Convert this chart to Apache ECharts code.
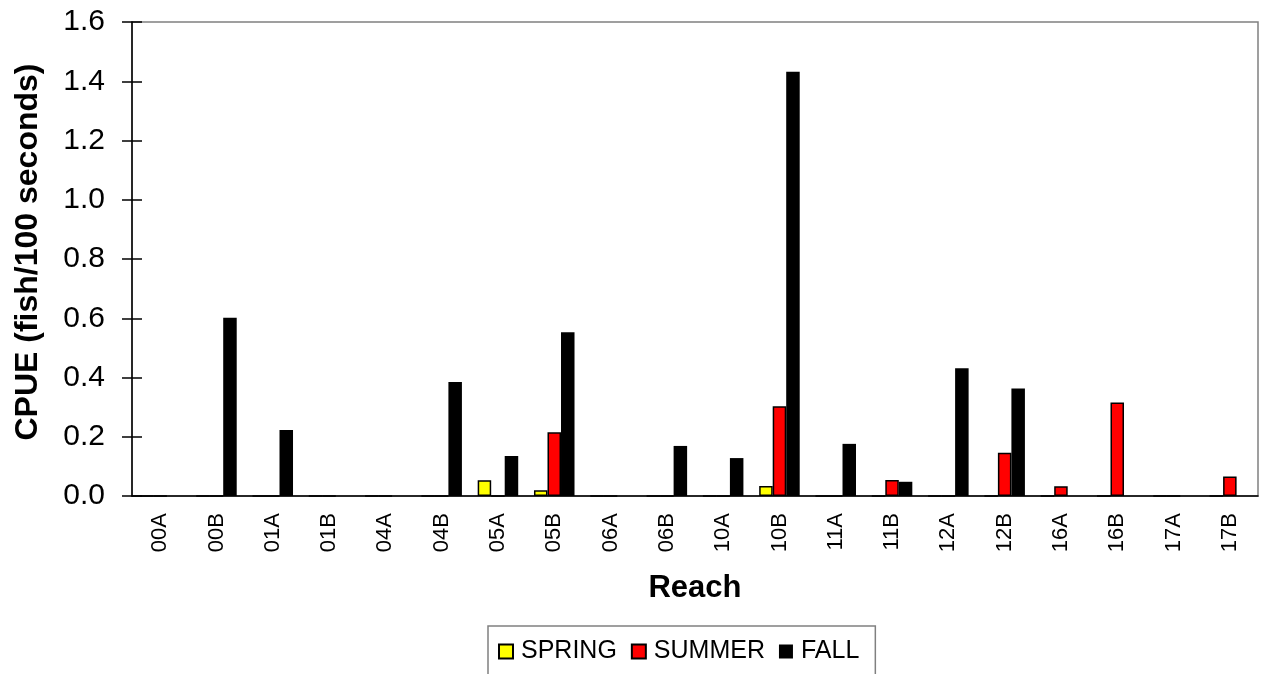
<!DOCTYPE html>
<html>
<head>
<meta charset="utf-8">
<script src="https://cdn.jsdelivr.net/npm/echarts@6/dist/echarts.min.js"></script>
<style>
  html, body { margin: 0; padding: 0; background: #fff; }
  #chart { width: 1269px; height: 674px; }
</style>
</head>
<body>
<div id="chart"></div>
<script>
// reaches along the x axis
var reaches = ['00A', '00B', '01A', '01B', '04A', '04B', '05A', '05B', '06A', '06B',
  '10A', '10B', '11A', '11B', '12A', '12B', '16A', '16B', '17A', '17B']
// CPUE per season (fish/100 seconds)
var spring = [0, 0, 0, 0, 0, 0, 0.053, 0.019, 0, 0, 0, 0.034, 0, 0, 0, 0, 0, 0, 0, 0]
var summer = [0, 0, 0, 0, 0, 0, 0, 0.215, 0, 0, 0, 0.303, 0, 0.054, 0, 0.146, 0.033, 0.316, 0, 0.066]
var fall = [0, 0.602, 0.223, 0, 0, 0.385, 0.135, 0.553, 0, 0.169, 0.128, 1.432, 0.176, 0.048, 0.431, 0.363, 0, 0, 0, 0]

var font = 'Liberation Sans, Arial, sans-serif'
var chart = echarts.init(document.getElementById('chart'))

function barSeries(name, data, color, border) {
  return {
    name: name,
    type: 'bar',
    data: data,
    barGap: 0,
    barCategoryGap: '28%',
    itemStyle: {
      color: color,
      borderColor: '#000',
      borderWidth: border
    },
    animation: false
  }
}

chart.setOption({
  backgroundColor: '#fff',
  grid: {
    left: 132,
    right: 11,
    top: 22,
    bottom: 178,
    show: true,
    borderColor: '#808080',
    borderWidth: 1.5
  },
  graphic: [{
    type: 'text',
    x: 28,
    y: 252,
    rotation: Math.PI / 2,
    style: {
      text: 'CPUE (fish/100 seconds)',
      fontFamily: font,
      fontSize: 32,
      fontWeight: 'bold',
      fill: '#000',
      align: 'center',
      verticalAlign: 'middle'
    }
  }],
  legend: {
    left: 488,
    top: 626,
    padding: [13, 16, 30, 10],
    borderColor: '#808080',
    borderWidth: 1.5,
    itemWidth: 14,
    itemHeight: 14,
    itemGap: 14,
    icon: 'rect',
    textStyle: { fontFamily: font, fontSize: 25, color: '#000', padding: [0, 0, 0, 3] },
    data: ['SPRING', 'SUMMER', 'FALL']
  },
  xAxis: [{
    type: 'category',
    data: reaches,
    name: 'Reach',
    nameLocation: 'middle',
    nameGap: 77,
    nameTextStyle: { fontFamily: font, fontSize: 31, fontWeight: 'bold', color: '#000' },
    axisLine: { lineStyle: { color: '#000', width: 1.5 } },
    axisTick: { length: 7, lineStyle: { color: '#000', width: 1.5 } },
    axisLabel: { rotate: 90, margin: 17, fontFamily: font, fontSize: 22, color: '#000' },
    splitLine: { show: false }
  }, {
    type: 'category',
    data: reaches,
    position: 'bottom',
    axisLine: { show: false },
    axisTick: { inside: true, length: 6, lineStyle: { color: '#000', width: 1.5 } },
    axisLabel: { show: false },
    splitLine: { show: false }
  }],
  yAxis: [{
    type: 'value',
    min: 0,
    max: 1.6,
    interval: 0.2,
    axisLine: { show: true, lineStyle: { color: '#000', width: 1.5 } },
    axisTick: { show: true, length: 10, lineStyle: { color: '#000', width: 1.5 } },
    axisLabel: {
      margin: 27,
      fontFamily: font,
      fontSize: 30,
      color: '#000',
      formatter: function (v) { return v.toFixed(1) }
    },
    splitLine: { show: false }
  }, {
    type: 'value',
    min: 0,
    max: 1.6,
    interval: 0.2,
    position: 'left',
    axisLine: { show: false },
    axisTick: { show: true, inside: true, length: 10, lineStyle: { color: '#000', width: 1.5 } },
    axisLabel: { show: false },
    splitLine: { show: false }
  }],
  series: [
    barSeries('SPRING', spring, '#ffff00', 1.5),
    barSeries('SUMMER', summer, '#ff0000', 1.5),
    barSeries('FALL', fall, '#000000', 0)
  ]
})
</script>
</body>
</html>
